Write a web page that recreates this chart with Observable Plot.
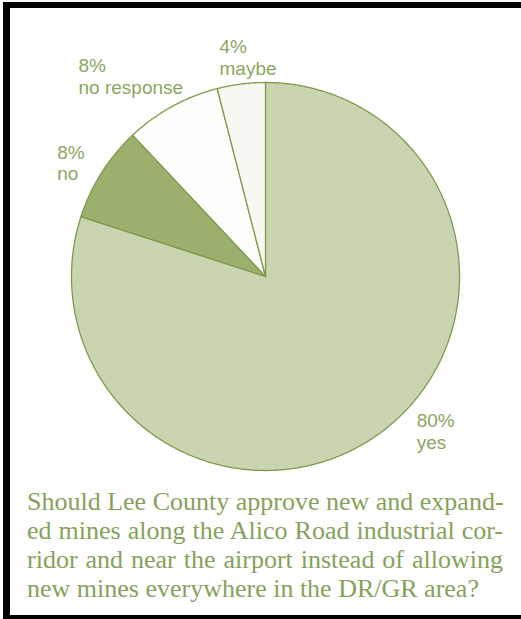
<!DOCTYPE html>
<html>
<head>
<meta charset="utf-8">
<script src="https://cdn.jsdelivr.net/npm/d3@7"></script>
<script src="https://cdn.jsdelivr.net/npm/@observablehq/plot@0.6"></script>
<style>
  html, body { margin: 0; padding: 0; background: #fff; }
  body { width: 521px; height: 619px; position: relative; overflow: hidden; }
  #frame { position: absolute; left: 3px; top: 2px; width: 540px; height: 617px; box-sizing: border-box;
           border-left: 7px solid #000; border-top: 6px solid #000; border-bottom: 4px solid #000; z-index: 2; }
  #chart { position: absolute; left: 0; top: 0; }
  #caption { position: absolute; left: 27px; top: 487px; width: 476px; font-family: "Liberation Serif", serif;
             font-size: 26px; line-height: 29px; color: #86a25a; }
  #caption div { text-align: justify; text-align-last: justify; white-space: nowrap; }
  #caption div.last { text-align-last: left; }
</style>
</head>
<body>
<div id="chart"></div>
<div id="caption"></div>
<div id="frame"></div>
<script>
// Data
const categories = ["yes", "no", "no response", "maybe"];
const percents = [80, 8, 8, 4];
const captionLines = [
  "Should Lee County approve new and expand-",
  "ed mines along the Alico Road industrial cor-",
  "ridor and near the airport instead of allowing",
  "new mines everywhere in the DR/GR area?"
];

// Styles
const fills = ["#c9d5b1", "#9bb06d", "#fdfdfb", "#f6f8f1"];
const strokeColor = "#7e9b4c";
const labelColor = "#8ba65f";
// label placement: radius factor and pixel nudges (layout, not data)
const labelNudge = {
  "yes": [20, -45],
  "no": [-20, -13.5],
  "no response": [-79.5, -24],
  "maybe": [-18, -17]
};
const R = 194; // pixel radius for nudge conversion

const table = categories.map((c, i) => ({category: c, value: percents[i]}));
const arcs = d3.pie().sort(null).value(d => d.value)(table);

// polygon outline rows for each slice
const rows = [];
for (const a of arcs) {
  const c = a.data.category;
  rows.push({category: c, x: 0, y: 0});
  const n = Math.max(2, Math.ceil((a.endAngle - a.startAngle) / (Math.PI / 360)));
  for (let k = 0; k <= n; k++) {
    const t = a.startAngle + (a.endAngle - a.startAngle) * k / n;
    rows.push({category: c, x: Math.sin(t), y: Math.cos(t)});
  }
  rows.push({category: c, x: 0, y: 0});
}

const labels = arcs.map(a => {
  const c = a.data.category;
  const mid = (a.startAngle + a.endAngle) / 2;
  const [nx, ny] = labelNudge[c];
  return {
    text: `${a.data.value}%\n${c}`,
    x: 1.15 * Math.sin(mid) + nx / R,
    y: 1.15 * Math.cos(mid) - ny / R
  };
});

const plot = Plot.plot({
  width: 521,
  height: 480,
  marginLeft: 71,
  marginRight: 62,
  marginTop: 82,
  marginBottom: 10,
  style: {background: "transparent", overflow: "visible"},
  x: {domain: [-1, 1], axis: null},
  y: {domain: [-1, 1], axis: null},
  color: {domain: categories, range: fills},
  marks: [
    ...categories.map((c, i) => Plot.line(rows.filter(r => r.category === c), {
      x: "x", y: "y", fill: fills[i], stroke: strokeColor, strokeWidth: 1.3, strokeLinejoin: "round", curve: "linear"
    })),
    Plot.text(labels, {
      x: "x", y: "y", text: "text", textAnchor: "start", lineAnchor: "top", lineHeight: 1.13,
      fontFamily: "Liberation Sans, Arial, sans-serif", fontSize: 19, fill: labelColor
    })
  ]
});
document.getElementById("chart").appendChild(plot);

const cap = document.getElementById("caption");
captionLines.forEach((t, i) => {
  const d = document.createElement("div");
  d.textContent = t;
  if (i === captionLines.length - 1) d.className = "last";
  cap.appendChild(d);
});
</script>
</body>
</html>
